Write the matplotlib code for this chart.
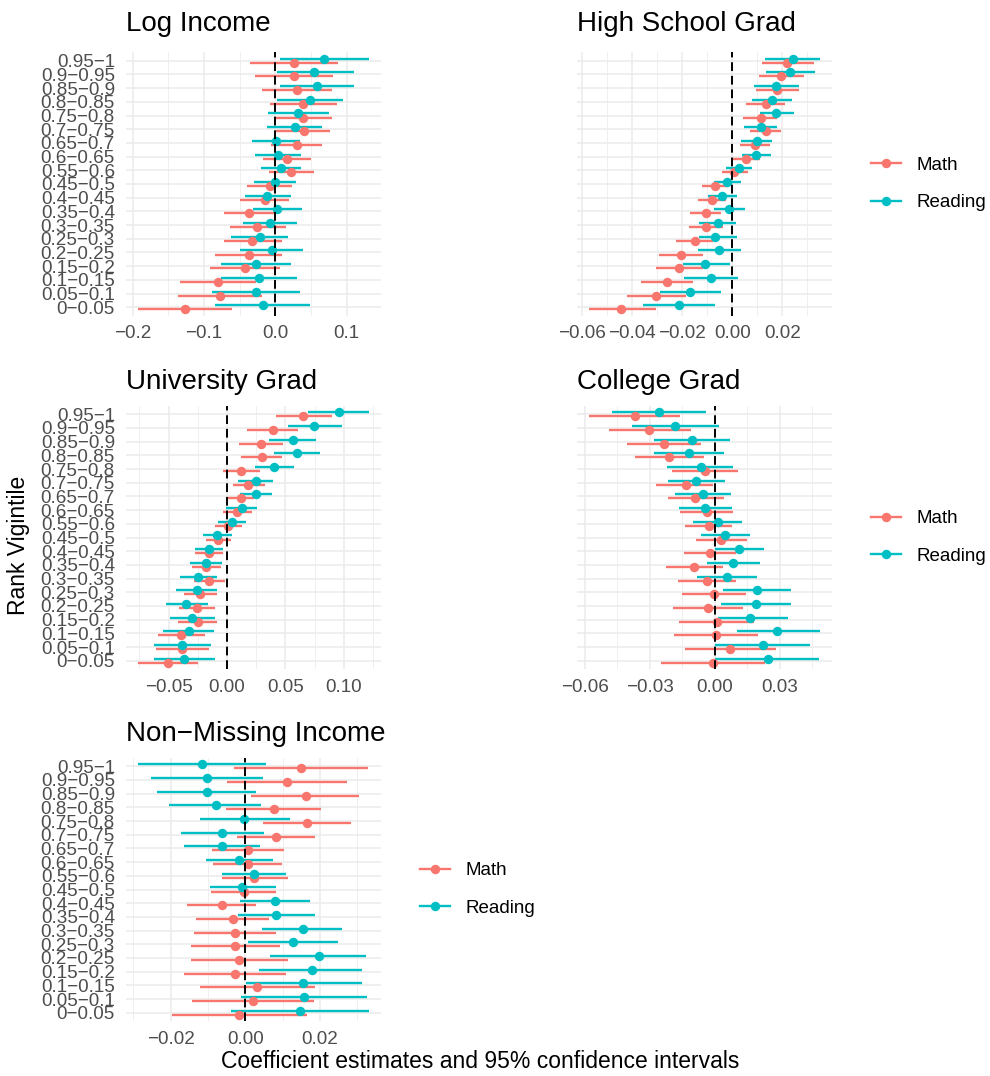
import matplotlib
matplotlib.use("Agg")
import matplotlib.pyplot as plt
from matplotlib.lines import Line2D
import numpy as np

plt.rcParams['font.family'] = ['Liberation Sans', 'DejaVu Sans']

MATH_COLOR = "#F8766D"
READ_COLOR = "#00BFC4"

# categories listed top to bottom
categories = ["0.95−1", "0.9−0.95", "0.85−0.9", "0.8−0.85", "0.75−0.8", "0.7−0.75",
              "0.65−0.7", "0.6−0.65", "0.55−0.6", "0.45−0.5", "0.4−0.45", "0.35−0.4",
              "0.3−0.35", "0.25−0.3", "0.2−0.25", "0.15−0.2", "0.1−0.15", "0.05−0.1",
              "0−0.05"]

# Log Income
loginc_math_est = [0.026, 0.026, 0.030, 0.039, 0.039, 0.040, 0.030, 0.016, 0.022, -0.008, -0.015, -0.037, -0.025, -0.032, -0.037, -0.042, -0.080, -0.078, -0.127]
loginc_math_lo = [-0.036, -0.029, -0.019, -0.007, -0.002, 0.001, -0.006, -0.017, -0.009, -0.039, -0.049, -0.072, -0.063, -0.072, -0.084, -0.091, -0.133, -0.137, -0.193]
loginc_math_hi = [0.088, 0.081, 0.080, 0.086, 0.080, 0.077, 0.066, 0.050, 0.054, 0.024, 0.019, -0.001, 0.015, 0.009, 0.009, 0.007, -0.027, -0.019, -0.061]
loginc_read_est = [0.069, 0.054, 0.058, 0.049, 0.032, 0.027, 0.001, 0.004, 0.008, -0.001, -0.011, 0.003, -0.008, -0.022, -0.005, -0.027, -0.023, -0.027, -0.017]
loginc_read_lo = [0.007, 0.003, 0.006, 0.002, -0.010, -0.011, -0.032, -0.028, -0.020, -0.030, -0.043, -0.031, -0.045, -0.062, -0.049, -0.076, -0.076, -0.088, -0.084]
loginc_read_hi = [0.132, 0.110, 0.110, 0.095, 0.076, 0.065, 0.034, 0.036, 0.036, 0.029, 0.022, 0.037, 0.030, 0.018, 0.039, 0.022, 0.030, 0.034, 0.049]

# High School Grad
hs_math_est = [0.0220, 0.0196, 0.0179, 0.0135, 0.0113, 0.0133, 0.0092, 0.0057, 0.0008, -0.0069, -0.0080, -0.0104, -0.0104, -0.0148, -0.0203, -0.0211, -0.0261, -0.0304, -0.0443]
hs_math_lo = [0.0119, 0.0107, 0.0093, 0.0056, 0.0045, 0.0072, 0.0031, 0.0004, -0.0041, -0.0121, -0.0136, -0.0167, -0.0173, -0.0223, -0.0291, -0.0303, -0.0363, -0.0421, -0.0573]
hs_math_hi = [0.0325, 0.0288, 0.0265, 0.0212, 0.0179, 0.0196, 0.0152, 0.0109, 0.0063, -0.0016, -0.0024, -0.0043, -0.0035, -0.0075, -0.0116, -0.0117, -0.0156, -0.0183, -0.0304]
hs_read_est = [0.0243, 0.0229, 0.0176, 0.0157, 0.0176, 0.0113, 0.0097, 0.0096, 0.0028, -0.0019, -0.0040, -0.0011, -0.0057, -0.0067, -0.0051, -0.0108, -0.0084, -0.0167, -0.0211]
hs_read_lo = [0.0129, 0.0133, 0.0089, 0.0079, 0.0109, 0.0047, 0.0037, 0.0040, -0.0023, -0.0071, -0.0096, -0.0073, -0.0131, -0.0133, -0.0137, -0.0195, -0.0193, -0.0289, -0.0355]
hs_read_hi = [0.0352, 0.0332, 0.0265, 0.0237, 0.0248, 0.0180, 0.0157, 0.0153, 0.0080, 0.0036, 0.0020, 0.0052, 0.0016, 0.0019, 0.0036, -0.0008, 0.0025, -0.0043, -0.0067]

# University Grad
uni_math_est = [0.0654, 0.0390, 0.0290, 0.0297, 0.0120, 0.0183, 0.0117, 0.0086, 0.0009, -0.0074, -0.0154, -0.0177, -0.0154, -0.0229, -0.0257, -0.0249, -0.0391, -0.0386, -0.0506]
uni_math_lo = [0.0417, 0.0174, 0.0103, 0.0123, -0.0037, 0.0051, 0.0009, -0.0037, -0.0106, -0.0183, -0.0271, -0.0297, -0.0286, -0.0371, -0.0411, -0.0420, -0.0591, -0.0606, -0.0766]
uni_math_hi = [0.0900, 0.0606, 0.0480, 0.0474, 0.0286, 0.0326, 0.0234, 0.0214, 0.0129, 0.0037, -0.0037, -0.0051, -0.0017, -0.0086, -0.0100, -0.0086, -0.0189, -0.0157, -0.0251]
uni_read_est = [0.0963, 0.0749, 0.0566, 0.0597, 0.0406, 0.0246, 0.0249, 0.0126, 0.0046, -0.0083, -0.0154, -0.0180, -0.0246, -0.0260, -0.0349, -0.0297, -0.0329, -0.0383, -0.0366]
uni_read_lo = [0.0690, 0.0526, 0.0357, 0.0406, 0.0237, 0.0094, 0.0114, -0.0006, -0.0074, -0.0206, -0.0277, -0.0314, -0.0406, -0.0434, -0.0526, -0.0491, -0.0549, -0.0623, -0.0629]
uni_read_hi = [0.1220, 0.0986, 0.0766, 0.0794, 0.0571, 0.0394, 0.0389, 0.0254, 0.0163, 0.0040, -0.0034, -0.0043, -0.0086, -0.0089, -0.0166, -0.0103, -0.0114, -0.0137, -0.0100]

# College Grad
col_math_est = [-0.0369, -0.0302, -0.0235, -0.0211, -0.0045, -0.0132, -0.0089, -0.0037, -0.0028, 0.0029, -0.0022, -0.0094, -0.0034, -0.0005, -0.0029, 0.0011, 0.0008, 0.0071, -0.0008]
col_math_lo = [-0.0583, -0.0488, -0.0406, -0.0369, -0.0197, -0.0271, -0.0215, -0.0162, -0.0137, -0.0085, -0.0142, -0.0223, -0.0168, -0.0151, -0.0192, -0.0163, -0.0188, -0.0138, -0.0246]
col_math_hi = [-0.0158, -0.0111, -0.0062, -0.0049, 0.0109, -0.0006, 0.0042, 0.0086, 0.0080, 0.0151, 0.0098, 0.0038, 0.0100, 0.0146, 0.0132, 0.0180, 0.0202, 0.0285, 0.0232]
col_read_est = [-0.0258, -0.0182, -0.0106, -0.0118, -0.0065, -0.0085, -0.0055, -0.0045, 0.0015, 0.0049, 0.0111, 0.0085, 0.0055, 0.0195, 0.0192, 0.0164, 0.0290, 0.0225, 0.0246]
col_read_lo = [-0.0477, -0.0380, -0.0282, -0.0282, -0.0220, -0.0215, -0.0185, -0.0166, -0.0100, -0.0065, 0.0000, -0.0037, -0.0083, 0.0040, 0.0031, 0.0014, 0.0101, 0.0003, 0.0003]
col_read_hi = [-0.0038, 0.0018, 0.0071, 0.0045, 0.0086, 0.0046, 0.0077, 0.0080, 0.0128, 0.0162, 0.0226, 0.0210, 0.0194, 0.0351, 0.0351, 0.0340, 0.0489, 0.0439, 0.0482]

# Non-Missing Income
nmi_math_est = [0.0150, 0.0110, 0.0161, 0.0076, 0.0164, 0.0081, 0.0008, 0.0006, 0.0024, -0.0005, -0.0064, -0.0034, -0.0027, -0.0028, -0.0018, -0.0027, 0.0031, 0.0021, -0.0017]
nmi_math_lo = [-0.0031, -0.0050, 0.0015, -0.0053, 0.0046, -0.0023, -0.0091, -0.0088, -0.0064, -0.0093, -0.0156, -0.0132, -0.0137, -0.0146, -0.0147, -0.0166, -0.0121, -0.0142, -0.0196]
nmi_math_hi = [0.0329, 0.0271, 0.0305, 0.0202, 0.0282, 0.0186, 0.0103, 0.0098, 0.0113, 0.0083, 0.0028, 0.0064, 0.0082, 0.0093, 0.0113, 0.0109, 0.0185, 0.0183, 0.0165]
nmi_read_est = [-0.0117, -0.0102, -0.0103, -0.0080, -0.0003, -0.0063, -0.0063, -0.0017, 0.0024, -0.0009, 0.0079, 0.0082, 0.0153, 0.0128, 0.0196, 0.0177, 0.0154, 0.0157, 0.0147]
nmi_read_lo = [-0.0289, -0.0253, -0.0236, -0.0204, -0.0122, -0.0174, -0.0164, -0.0105, -0.0063, -0.0096, -0.0015, -0.0021, 0.0045, 0.0007, 0.0066, 0.0037, 0.0002, -0.0011, -0.0039]
nmi_read_hi = [0.0054, 0.0047, 0.0029, 0.0041, 0.0118, 0.0049, 0.0038, 0.0073, 0.0109, 0.0081, 0.0172, 0.0186, 0.0259, 0.0249, 0.0323, 0.0313, 0.0313, 0.0325, 0.0332]

# x axis breaks per panel
loginc_ticks = [-0.2, -0.1, 0.0, 0.1]
loginc_labels = ["−0.2", "−0.1", "0.0", "0.1"]
loginc_minor = [-0.15, -0.05, 0.05]
hs_ticks = [-0.06, -0.04, -0.02, 0.0, 0.02]
hs_labels = ["−0.06", "−0.04", "−0.02", "0.00", "0.02"]
hs_minor = [-0.05, -0.03, -0.01, 0.01, 0.03]
uni_ticks = [-0.05, 0.0, 0.05, 0.10]
uni_labels = ["−0.05", "0.00", "0.05", "0.10"]
uni_minor = [-0.075, -0.025, 0.025, 0.075, 0.125]
col_ticks = [-0.06, -0.03, 0.0, 0.03]
col_labels = ["−0.06", "−0.03", "0.00", "0.03"]
col_minor = [-0.045, -0.015, 0.015, 0.045]
nmi_ticks = [-0.02, 0.0, 0.02]
nmi_labels = ["−0.02", "0.00", "0.02"]
nmi_minor = [-0.03, -0.01, 0.01, 0.03]

W, H = 990, 1076
DODGE = 0.15


def draw_panel(rect, title, math, read, ticks, labels, minor, show_y, title_pad=12):
    ax = fig.add_axes(rect)
    n = len(categories)
    y = np.arange(n)[::-1]
    ax.hlines(y - DODGE, math[1], math[2], color=MATH_COLOR, lw=1.7, zorder=2)
    ax.hlines(y + DODGE, read[1], read[2], color=READ_COLOR, lw=1.7, zorder=2)
    ax.plot(math[0], y - DODGE, "o", color=MATH_COLOR, ms=6.8, mew=0, zorder=3)
    ax.plot(read[0], y + DODGE, "o", color=READ_COLOR, ms=6.8, mew=0, zorder=3)
    ax.axvline(0, color="black", lw=1.4, dashes=(4.5, 2.5), zorder=4)

    ax.margins(x=0.05)
    ax.set_ylim(-0.6, n - 0.4)
    ax.set_xticks(ticks, labels=labels)
    ax.set_xticks(minor, minor=True)
    ax.set_yticks(y, labels=categories if show_y else [""] * n)
    ax.grid(True, which="major", color="#EBEBEB", lw=1.1)
    ax.grid(True, which="minor", axis="x", color="#EBEBEB", lw=0.55)
    ax.set_axisbelow(True)
    for s in ax.spines.values():
        s.set_visible(False)
    ax.tick_params(which="both", length=0, labelsize=13.6, labelcolor="#4D4D4D")
    ax.tick_params(axis="x", pad=7)
    ax.tick_params(axis="y", pad=8)
    ax.set_title(title, loc="left", fontsize=20, pad=title_pad)
    return ax


def add_legend(ax):
    handles = [
        Line2D([], [], color=MATH_COLOR, lw=1.7, marker="o", ms=6.8, mew=0),
        Line2D([], [], color=READ_COLOR, lw=1.7, marker="o", ms=6.8, mew=0),
    ]
    ax.legend(handles, ["Math", "Reading"], loc="center left",
              bbox_to_anchor=(1.152, 0.5), frameon=False, borderpad=0,
              borderaxespad=0, handlelength=1.6, handletextpad=0.85,
              labelspacing=1.1, fontsize=13.5)


fig = plt.figure(figsize=(W / 100, H / 100), dpi=100)

pw, ph = 255 / W, 263 / H
left_x, right_x = 126 / W, 577 / W
rows = [1 - 315.5 / H, 1 - 669 / H, 1 - 1021 / H]

draw_panel([left_x, rows[0], pw, ph], "Log Income",
           [loginc_math_est, loginc_math_lo, loginc_math_hi],
           [loginc_read_est, loginc_read_lo, loginc_read_hi],
           loginc_ticks, loginc_labels, loginc_minor, True, title_pad=15.5)
ax = draw_panel([right_x, rows[0], pw, ph], "High School Grad",
                [hs_math_est, hs_math_lo, hs_math_hi],
                [hs_read_est, hs_read_lo, hs_read_hi],
                hs_ticks, hs_labels, hs_minor, False, title_pad=15.5)
add_legend(ax)

draw_panel([left_x, rows[1], pw, ph], "University Grad",
           [uni_math_est, uni_math_lo, uni_math_hi],
           [uni_read_est, uni_read_lo, uni_read_hi],
           uni_ticks, uni_labels, uni_minor, True)
ax = draw_panel([right_x, rows[1], pw, ph], "College Grad",
                [col_math_est, col_math_lo, col_math_hi],
                [col_read_est, col_read_lo, col_read_hi],
                col_ticks, col_labels, col_minor, False)
add_legend(ax)

ax = draw_panel([left_x, rows[2], pw, ph], "Non−Missing Income",
                [nmi_math_est, nmi_math_lo, nmi_math_hi],
                [nmi_read_est, nmi_read_lo, nmi_read_hi],
                nmi_ticks, nmi_labels, nmi_minor, True)
add_legend(ax)

fig.text(19 / W, 1 - 545 / H, "Rank Vigintile", rotation=90, ha="center",
         va="center", fontsize=16.5)
fig.text(480 / W, 1 - 1062 / H, "Coefficient estimates and 95% confidence intervals",
         ha="center", va="center", fontsize=16.5)

fig.savefig("out.png", dpi=100, facecolor="white")
